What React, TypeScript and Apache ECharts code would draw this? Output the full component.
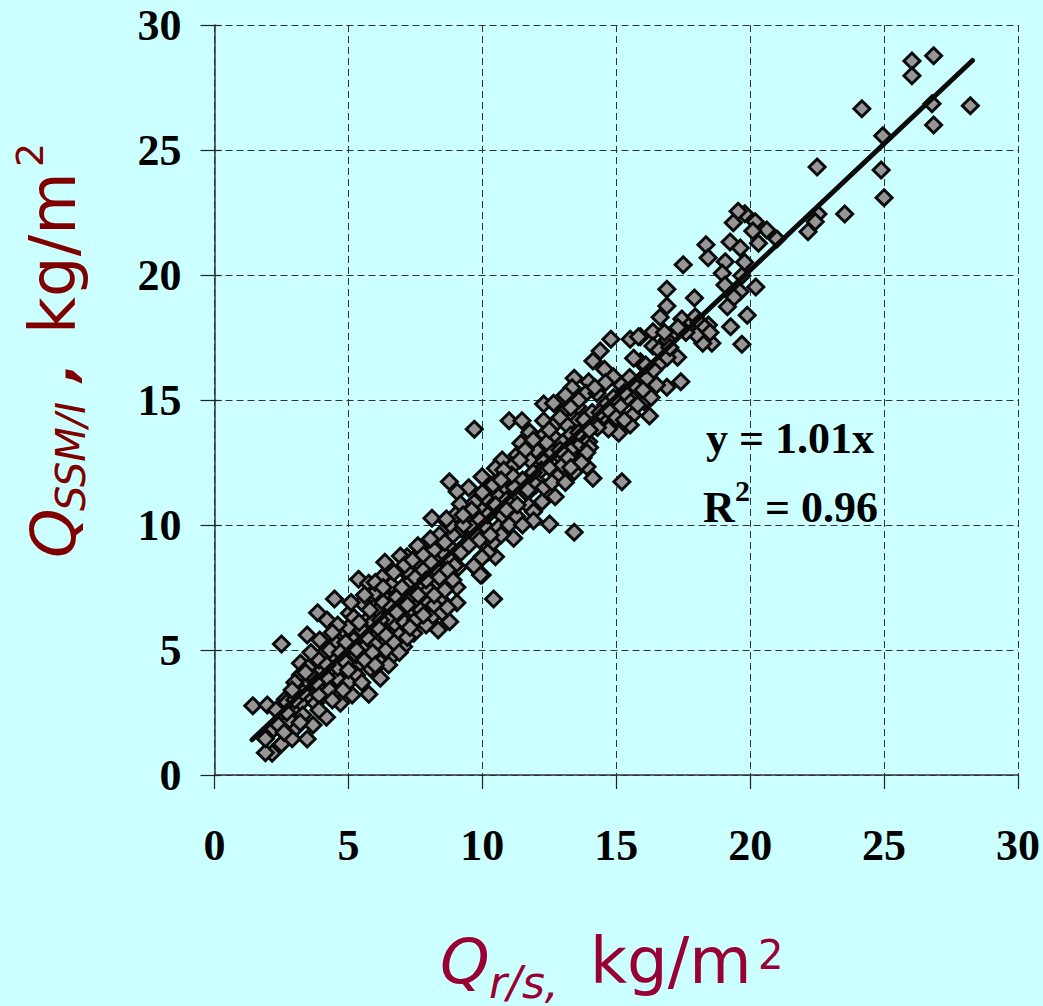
import React, { useEffect, useRef } from "react";
import * as echarts from "echarts";

const xTicks = [0, 5, 10, 15, 20, 25, 30];
const trendLine = [[1.4, 1.41], [28.3, 28.58]];

const highPoints = [
  [26.85,28.77],[26.04,28.56],[26.04,27.97],[24.17,26.65],[28.22,26.77],[26.79,26.85],[26.85,26.0],[24.95,25.57],
  [22.5,24.32],[24.89,24.2],[25.0,23.09],[23.53,22.44],[22.53,22.44],[22.43,22.13],[22.16,21.73],[21.0,21.44],
  [20.62,21.8],[20.19,22.13],[20.1,21.76],[19.8,22.45],[19.55,22.55],[19.37,22.09],[20.31,21.27],[19.25,21.32],
  [19.63,21.08],[18.35,21.21],[18.43,20.69],[17.5,20.41],[19.07,20.53],[19.79,20.51],[18.96,20.07],[19.69,19.97],
  [19.06,19.6],[20.21,19.52],[16.89,19.43],[19.62,19.33],[17.92,19.08],[19.4,19.11],[16.89,18.76],[19.15,18.73],
  [16.64,18.31],[19.89,18.39],[19.27,17.93],[19.69,17.23],[16.37,17.73],[18.23,17.73],[17.45,18.24],[17.95,18.33],
  [18.44,18.0],[18.57,17.27],[18.23,17.27],[16.37,17.16],[15.9,17.53],[17.7,17.95],[18.1,18.1],[17.15,17.6],[16.9,17.4],
  [18.3,17.9],[18.0,17.6],[17.6,17.7],[17.3,17.9],[16.8,17.7],[18.5,17.7],
];

const midPoints = [
  [14.8,17.43],[15.52,17.43],[15.83,17.53],[14.4,16.96],[14.13,16.56],[14.56,16.23],[14.89,15.93],[15.9,16.53],
  [15.65,16.67],[16.64,16.47],[17.29,16.71],[16.15,15.87],[15.77,15.49],[16.89,15.51],[17.41,15.73],[15.4,15.07],
  [16.04,14.93],[16.24,14.36],[15.62,14.4],[15.52,14.0],[15.09,13.67],[14.71,13.84],[14.53,14.36],[14.22,14.04],
  [15.15,14.76],[13.43,15.87],[13.97,15.73],[13.35,15.49],[13.87,15.27],[14.28,15.27],[13.1,15.2],[12.29,14.84],
  [12.66,14.87],[13.56,14.73],[13.03,14.53],[12.29,14.17],[12.72,14.04],[13.56,14.16],[13.16,14.0],[11.0,14.17],
  [11.48,14.17],[9.7,13.83],[11.77,13.71],[12.29,13.6],[12.66,13.53],[11.44,13.27],[12.06,13.27],[13.97,13.33],
  [13.57,13.13],[12.54,13.07],[13.28,13.0],[10.74,12.6],[11.17,12.4],[11.77,12.6],[12.95,12.69],[13.76,12.69],
  [10.49,12.27],[12.29,12.53],[13.43,12.13],[13.91,12.33],[12.81,11.93],[9.99,11.93],[14.13,11.87],[15.21,11.73],
  [8.77,11.73],[10.32,11.6],[9.49,11.49],[10.82,11.47],[11.89,11.63],[9.06,11.33],[11.67,11.27],[12.72,11.13],
  [10.61,11.13],[9.93,10.71],[9.18,10.84],[12.23,10.93],[11.73,10.77],[9.28,10.37],[10.74,10.37],[8.62,10.2],
  [8.12,10.27],[11.91,10.53],[11.29,10.33],[12.51,10.04],[11.91,10.17],[13.43,9.71],[10.18,9.87],[9.24,9.83],
  [11.17,9.47],[10.3,9.53],[8.74,9.17],[8.03,9.4],[7.62,9.13],[8.03,8.93],[9.43,9.27],[10.49,8.73],[9.99,8.73],
  [7.62,8.47],[8.93,8.4],[9.68,8.36],[7.19,8.73],[7.13,8.13],[8.18,8.0],[9.99,8.0],[8.62,8.0],
  [16.9,16.7],[16.4,16.2],[16.1,16.4],[15.2,15.6],[14.9,15.1],[14.6,14.8],[15.5,15.9],[16.6,17.0],[17.0,17.1],
  [14.1,14.5],[13.8,14.2],[14.3,13.9],[13.3,13.6],[13.0,13.3],[12.6,12.9],[12.2,12.2],[11.9,12.1],[11.5,11.8],
  [11.2,11.5],[10.9,11.0],[10.5,10.8],[10.2,10.4],[9.9,10.2],[9.6,9.9],[10.9,11.9],[11.3,12.8],[12.0,11.6],
  [12.5,12.3],[13.0,12.4],[10.1,11.1],[9.7,10.9],[10.6,9.9],[11.0,10.0],[8.9,9.6],[8.5,8.9],[9.2,8.9],[8.3,8.5],
  [14.0,13.1],[13.9,12.9],[13.7,12.5],[13.2,12.7],[12.9,13.0],[12.4,13.3],[12.0,13.0],[11.6,13.0],[11.1,12.0],
  [10.8,12.2],[10.4,11.6],[10.0,11.3],[9.6,10.6],[9.0,10.4],[8.8,10.0],[8.4,9.6],[9.5,9.2],[9.9,9.4],[10.4,9.3],
  [10.7,9.6],[11.5,10.0],[11.3,10.8],[10.9,10.6],[11.7,11.4],[12.3,11.5],[12.6,11.7],[13.1,11.7],[13.3,12.3],
  [13.6,13.7],[14.0,13.8],[14.4,14.5],[14.7,14.6],[15.0,14.3],[15.3,14.2],[15.8,14.8],[16.3,15.1],[16.5,15.6],
  [16.0,15.4],[15.3,15.3],[14.6,15.7],[14.2,15.5],[13.6,15.0],[13.3,14.7],[12.9,14.3],[12.5,13.8],[11.9,13.4],
  [11.4,12.6],[10.7,11.8],[9.3,10.0],[8.6,9.3],[8.2,9.0],[8.8,8.6],[9.1,8.3],[9.8,8.5],[10.2,8.9],
];

const lowPoints = [
  [2.5,5.24],[4.48,7.04],[10.42,7.04],[1.43,2.77],[1.97,2.8],[2.65,3.03],[2.15,0.87],[1.9,0.89],[2.5,1.24],
  [1.9,1.45],[2.21,1.84],[2.9,1.45],[3.46,1.44],[3.06,1.91],[3.68,2.0],[4.18,2.31],[2.59,2.33],[3.54,3.13],
  [3.21,2.87],[3.77,2.87],[4.49,3.33],[4.7,2.87],[5.76,3.23],[5.14,3.2],[3.83,3.53],[3.21,4.0],[3.65,4.0],
  [3.21,4.47],[3.77,4.57],[4.27,4.91],[3.46,5.6],[3.93,5.4],[3.85,6.49],[4.2,6.2],[5.04,6.47],[4.8,5.8],
  [5.76,6.27],[5.38,7.83],[5.76,7.67],[5.86,7.24],[6.26,7.91],[6.36,8.51],[6.94,8.76],[7.59,9.17],[8.06,9.44],
  [7.19,8.16],[7.6,8.47],[8.37,7.67],[8.96,8.37],[8.66,10.24],[9.28,10.4],[10.3,9.6],[9.99,8.7],[9.93,8.0],
  [9.68,8.37],[9.05,7.51],[9.05,6.89],[8.43,7.04],[8.78,6.13],[8.35,5.8],[8.12,6.33],[7.4,6.57],[7.19,7.6],
  [6.78,6.0],[6.26,5.8],[7.06,5.13],[6.67,4.8],[5.94,5.47],[5.63,5.13],[5.82,4.27],[6.19,3.87],[5.42,4.47],
  [4.58,3.87],[4.82,5.0],[7.44,5.67],[6.44,7.0],[7.69,7.53],[6.94,6.87],[2.9,2.6],[2.4,2.0],[2.7,2.9],[3.1,3.2],
  [3.4,3.6],[3.9,3.2],[4.2,3.9],[4.4,4.6],[4.0,4.2],[4.6,4.3],[4.9,4.5],[5.2,5.4],[5.0,5.9],[5.5,5.8],[5.3,4.0],
  [5.9,6.1],[6.1,6.6],[6.5,6.3],[6.8,7.1],[6.6,7.6],[7.0,7.5],[7.3,7.1],[7.5,7.9],[7.8,8.2],[8.0,7.4],[8.3,8.2],
  [6.0,5.2],[6.4,5.0],[6.9,5.6],[7.1,6.1],[7.7,6.6],[8.0,6.9],[8.6,7.4],[8.9,7.8],[5.5,6.9],[6.0,7.3],[6.3,6.9],
  [4.1,4.9],[4.5,5.3],[3.0,3.7],[2.8,2.2],[3.3,2.4],[5.0,3.7],[7.9,6.0],[6.7,5.3],[5.2,6.3],[4.6,6.0],
  [3.5,4.3],[3.7,3.9],[4.3,3.4],[4.8,3.4],[5.0,4.2],[5.3,4.8],[5.6,4.6],[5.9,4.9],[6.2,4.5],[6.5,4.4],[6.9,4.9],
  [7.2,5.5],[7.5,6.2],[7.8,6.4],[8.2,6.8],[8.5,6.5],[7.3,5.9],[6.6,6.7],[6.2,6.2],[5.7,5.5],[5.3,5.0],[4.9,5.3],
  [4.4,5.7],[4.3,5.0],[3.9,4.6],[3.6,4.9],[3.4,4.1],[3.0,3.0],[2.7,2.5],[2.3,2.6],[2.6,1.7],[3.2,2.1],[3.9,2.6],
  [4.4,3.0],[5.5,3.7],[6.0,4.4],[5.1,6.9],[5.6,7.2],[6.0,7.7],[6.3,7.5],[6.7,8.1],[7.1,8.4],[7.4,8.6],[7.8,8.8],
  [8.1,8.5],[8.4,7.9],[8.7,8.2],[7.9,7.8],[7.6,7.2],[7.2,6.8],[6.8,6.5],[6.4,5.6],[6.1,5.9],[5.8,6.6],[5.4,6.1],
  [4.7,4.9],[4.2,4.4],[3.8,3.7],[3.3,3.3],[2.9,3.4],[8.7,6.7],[8.2,7.2],
];

const allPoints = [...highPoints, ...midPoints, ...lowPoints];

const sans = "'DejaVu Sans'";
const serif = "'Liberation Serif'";
const darkRed = "#800000";
const wine = "#990033";

function label(text: string, x: number, y: number, size: number, fill: string, opts: any = {}) {
  return {
    type: "text" as const,
    x,
    y,
    rotation: opts.rotation ?? 0,
    z: 20,
    style: {
      text,
      fill,
      fontFamily: opts.family ?? sans,
      fontSize: size,
      fontStyle: opts.italic ? "italic" : "normal",
      fontWeight: opts.bold ? "bold" : "normal",
      textAlign: "left",
      textVerticalAlign: "bottom",
      verticalAlign: "bottom",
    },
  };
}

export default function App() {
  const ref = useRef<HTMLDivElement>(null);
  useEffect(() => {
    document.body.style.margin = "0";
    const chart = echarts.init(ref.current!, undefined, { renderer: "svg" });
    const up = Math.PI / 2;
    chart.setOption({
      animation: false,
      backgroundColor: "#CCFFFF",
      grid: { left: 214.5, right: 24.5, top: 25, bottom: 231, containLabel: false },
      xAxis: {
        type: "value",
        min: 0,
        max: 30,
        interval: 5,
        axisLine: { show: true, onZero: false, lineStyle: { color: "#333", width: 1.5 } },
        axisTick: { show: true, inside: false, length: 14, lineStyle: { color: "#222", width: 1.2 } },
        axisLabel: {
          margin: 48,
          fontFamily: serif,
          fontWeight: "bold",
          fontSize: 44,
          color: "#000",
          formatter: (v: number) => (xTicks.includes(v) ? String(v) : ""),
          showMinLabel: true,
          showMaxLabel: true,
          hideOverlap: false,
        },
        splitLine: { show: true, lineStyle: { color: "#333", width: 1, type: [7, 4] } },
      },
      yAxis: [
        {
          type: "value",
          min: 0,
          max: 30,
          interval: 5,
          axisLine: { show: true, onZero: false, lineStyle: { color: "#333", width: 1.5 } },
          axisTick: { show: true, inside: false, length: 14, lineStyle: { color: "#222", width: 1.2 } },
          axisLabel: {
            margin: 33,
            fontFamily: serif,
            fontWeight: "bold",
            fontSize: 44,
            color: "#000",
            showMinLabel: true,
            showMaxLabel: true,
            hideOverlap: false,
          },
          splitLine: { show: true, lineStyle: { color: "#333", width: 1, type: [7, 4] } },
        },
        {
          type: "value",
          position: "left",
          min: 0,
          max: 30,
          interval: 5,
          axisLine: { show: false, onZero: false },
          axisTick: { show: true, inside: true, length: 7, lineStyle: { color: "#222", width: 1.2 } },
          axisLabel: { show: false },
          splitLine: { show: false },
        },
      ],
      series: [
        {
          type: "scatter",
          data: allPoints,
          symbol: "diamond",
          symbolSize: 16,
          z: 3,
          clip: false,
          itemStyle: { color: "#969696", borderColor: "#0a0a0a", borderWidth: 3, opacity: 1 },
          silent: true,
        },
        {
          type: "line",
          data: trendLine,
          showSymbol: false,
          symbol: "none",
          z: 4,
          lineStyle: { color: "#0a0a0a", width: 5, cap: "round" },
          silent: true,
        },
      ],
      graphic: [
        label("y = 1.01x", 706, 460, 44, "#000", { family: serif, bold: true }),
        label("R", 703, 529, 44, "#000", { family: serif, bold: true }),
        label("2", 735, 505, 30, "#000", { family: serif, bold: true }),
        label(" = 0.96", 754, 529, 44, "#000", { family: serif, bold: true }),

        label("Q", 440, 993, 63, wine, { italic: true }),
        label("r/s,", 489, 1004, 44, wine, { italic: true }),
        label("kg/m", 590, 993, 64, wine),
        label("2", 758, 975, 40, wine),

        label("Q", 85, 558, 63, darkRed, { italic: true, rotation: up }),
        label("SSM/I", 91, 511, 40, darkRed, { italic: true, rotation: up }),
        label(",", 83, 382, 50, darkRed, { italic: true, bold: true, rotation: up }),
        label("kg/m", 85, 334, 64, darkRed, { rotation: up }),
        label("2", 49, 167, 38, darkRed, { rotation: up }),
      ],
    });
    return () => chart.dispose();
  }, []);
  return <div ref={ref} style={{ width: 1043, height: 1006 }} />;
}
